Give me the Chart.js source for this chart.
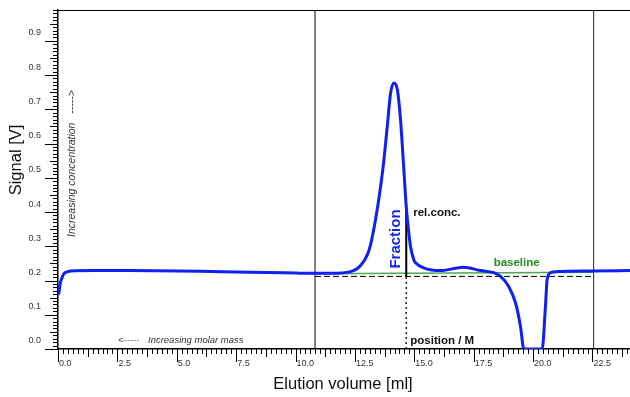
<!DOCTYPE html>
<html>
<head>
<meta charset="utf-8">
<script src="https://cdn.jsdelivr.net/npm/chart.js@4.4.0/dist/chart.umd.min.js"></script>
<style>
  html, body { margin: 0; padding: 0; background: #fff; }
  #wrap { width: 630px; height: 397px; position: relative; }
</style>
</head>
<body>
<div id="wrap"><canvas id="chart"></canvas></div>
<script>
// elution volume [ml] and detector signal [V]
const volume = [0.0, 0.04, 0.08, 0.17, 0.25, 0.38, 0.55, 1.5, 3.0, 5.05, 6.5, 8.1, 10.05, 10.22, 11.5,
  12.32, 12.74, 13.02, 13.16, 13.38, 13.58, 13.72, 13.86, 14.0, 14.14, 14.29, 14.42, 14.56, 14.66,
  14.77, 14.84, 14.98, 15.05, 15.39, 16.11, 17.07, 17.79, 18.34, 18.63, 18.97, 19.26, 19.47, 19.61,
  20.38, 20.52, 20.59, 20.73, 21.01, 22.5, 24.1];
const signal = [0.16, 0.164, 0.187, 0.208, 0.22, 0.225, 0.228, 0.229, 0.229, 0.228, 0.226, 0.224, 0.222, 0.221, 0.221,
  0.226, 0.244, 0.275, 0.305, 0.383, 0.474, 0.552, 0.649, 0.747, 0.777, 0.756, 0.669, 0.523, 0.416,
  0.338, 0.299, 0.26, 0.252, 0.237, 0.229, 0.239, 0.229, 0.223, 0.212, 0.183, 0.135, 0.066, 0,
  0, 0.124, 0.202, 0.223, 0.226, 0.228, 0.229];

// integration limits, baseline, fraction position
const limits = [10.82, 22.55];
const baselineLevel = [0.220, 0.2245];
const dashedLevel = [0.212, 0.212];
const fractionVolume = 14.66;
const fractionSignal = 0.416;

const xTickStep = 2.5;
const yTickStep = 0.1;

const FONT = 'Arial, "Liberation Sans", sans-serif';

const extras = {
  id: 'extras',
  afterDraw(chart) {
    const { ctx, chartArea: a, scales: { x, y } } = chart;
    ctx.save();
    ctx.strokeStyle = '#000';
    ctx.lineWidth = 1;

    // top frame
    ctx.beginPath();
    ctx.moveTo(a.left, a.top + 0.5);
    ctx.lineTo(a.right, a.top + 0.5);
    ctx.stroke();

    // y minor ticks
    for (let i = 0; i <= 99; i++) {
      const py = Math.round(y.getPixelForValue(i / 100)) + 0.5;
      const len = i % 10 === 0 ? 13 : (i % 5 === 0 ? 8 : 5);
      ctx.beginPath();
      ctx.moveTo(a.left - len, py);
      ctx.lineTo(a.left, py);
      ctx.stroke();
    }
    // x minor ticks
    for (let i = 0; ; i++) {
      const v = i * xTickStep / 12;
      if (v > x.max) break;
      const px = Math.round(x.getPixelForValue(v)) + 0.5;
      const len = i % 12 === 0 ? 13 : (i % 6 === 0 ? 8 : 5);
      ctx.beginPath();
      ctx.moveTo(px, a.bottom);
      ctx.lineTo(px, a.bottom + len);
      ctx.stroke();
    }

    // axis titles
    ctx.fillStyle = '#111';
    ctx.textAlign = 'center';
    ctx.textBaseline = 'middle';
    ctx.font = '16.5px ' + FONT;
    ctx.fillText('Elution volume [ml]', 343, 384);
    ctx.save();
    ctx.translate(16, 160);
    ctx.rotate(-Math.PI / 2);
    ctx.fillText('Signal [V]', 0, 0);
    ctx.restore();

    // italic hints
    ctx.fillStyle = '#333';
    ctx.font = 'italic 10.5px ' + FONT;
    ctx.textAlign = 'left';
    ctx.save();
    ctx.translate(72, 237);
    ctx.rotate(-Math.PI / 2);
    ctx.fillText('Increasing concentration   ----->', 0, 0);
    ctx.restore();
    ctx.font = 'italic 9.5px ' + FONT;
    ctx.fillText('<-----', 118, 340);
    ctx.fillText('Increasing molar mass', 148, 340);

    // fraction labels
    const fx = x.getPixelForValue(fractionVolume);
    ctx.font = 'bold 15px ' + FONT;
    ctx.fillStyle = '#1428e6';
    ctx.textAlign = 'center';
    ctx.save();
    ctx.translate(fx - 10, 239);
    ctx.rotate(-Math.PI / 2);
    ctx.fillText('Fraction', 0, 0);
    ctx.restore();

    ctx.fillStyle = '#111';
    ctx.textAlign = 'left';
    ctx.font = 'bold 11.5px ' + FONT;
    ctx.fillText('rel.conc.', fx + 7, y.getPixelForValue(fractionSignal) + 6);
    ctx.fillText('position / M', fx + 4, 341);

    ctx.fillStyle = '#1f8f1f';
    ctx.fillText('baseline', x.getPixelForValue(18.34), 263);
    ctx.restore();
  }
};

const line = (pts, color, width, dash) => ({
  data: pts,
  borderColor: color,
  borderWidth: width,
  borderDash: dash || [],
  pointRadius: 0,
  tension: 0
});

// keep the plot frame fixed: no extra room for edge labels
const noPad = scale => {
  scale.paddingLeft = 0;
  scale.paddingRight = 0;
  scale.paddingTop = 0;
  scale.paddingBottom = 0;
};

new Chart(document.getElementById('chart'), {
  type: 'line',
  data: {
    datasets: [
      {
        data: volume.map((v, i) => ({ x: v, y: signal[i] })),
        borderColor: '#1020f0',
        borderWidth: 3,
        pointRadius: 0,
        cubicInterpolationMode: 'monotone'
      },
      line([{ x: fractionVolume, y: dashedLevel[0] }, { x: fractionVolume, y: fractionSignal }], '#000', 2),
      line([{ x: fractionVolume, y: 0 }, { x: fractionVolume, y: dashedLevel[0] }], '#000', 1.3, [2, 3]),
      line([{ x: limits[0], y: dashedLevel[0] }, { x: limits[1], y: dashedLevel[1] }], '#000', 1, [6, 3]),
      line([{ x: limits[0], y: baselineLevel[0] }, { x: limits[1], y: baselineLevel[1] }], '#4ea64e', 1.5),
      line([{ x: limits[0], y: 0 }, { x: limits[0], y: 0.99 }], '#000', 1),
      line([{ x: limits[1], y: 0 }, { x: limits[1], y: 0.99 }], '#222', 1),
      {
        data: limits.map(v => ({ x: v, y: -0.012 })),
        showLine: false,
        pointStyle: 'triangle',
        pointRadius: 4,
        pointBackgroundColor: '#e01010',
        pointBorderColor: '#e01010',
        pointBorderWidth: 0,
        clip: false
      }
    ]
  },
  options: {
    responsive: true,
    maintainAspectRatio: false,
    animation: false,
    events: [],
    layout: { autoPadding: false, padding: { top: 10, left: 0, right: 0, bottom: 0 } },
    plugins: { legend: { display: false }, tooltip: { enabled: false } },
    scales: {
      x: {
        type: 'linear',
        min: 0,
        max: 24.08,
        afterFit(scale) { scale.height = 48; noPad(scale); },
        grid: { display: false, drawTicks: false },
        border: { display: true, color: '#000', width: 1.5 },
        ticks: {
          stepSize: xTickStep,
          includeBounds: false,
          autoSkip: false,
          maxRotation: 0,
          align: 'start',
          labelOffset: 1,
          padding: 9,
          color: '#333',
          font: { size: 9, family: FONT },
          callback: v => v.toFixed(1)
        }
      },
      y: {
        min: 0,
        max: 0.99,
        afterFit(scale) { scale.width = 58; noPad(scale); },
        grid: { display: false, drawTicks: false },
        border: { display: true, color: '#000', width: 1.5 },
        ticks: {
          stepSize: yTickStep,
          includeBounds: false,
          autoSkip: false,
          labelOffset: -8,
          padding: 17,
          color: '#333',
          font: { size: 9, family: FONT },
          callback: v => v.toFixed(1)
        }
      }
    }
  },
  plugins: [extras]
});
</script>
</body>
</html>
